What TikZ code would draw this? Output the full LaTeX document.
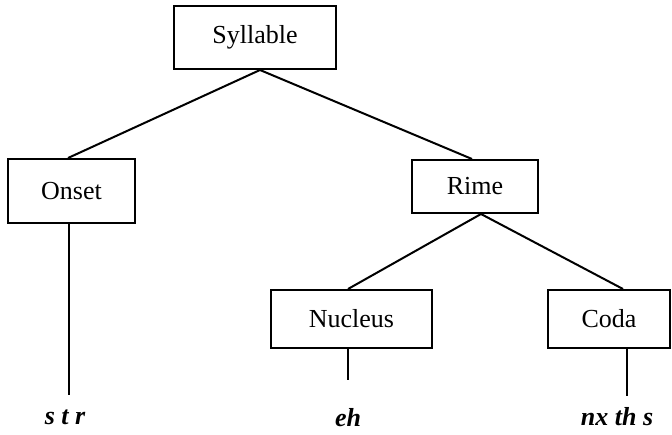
\documentclass[tikz,border=0pt]{standalone}
\usepackage{fontspec}
\setmainfont{Liberation Serif}

\begin{document}
\begin{tikzpicture}[x=0.5pt,y=-0.5pt,line width=1pt,
   unit/.style={draw,inner sep=0pt,font=\fontsize{13}{15}\selectfont},
   seg/.style={inner sep=0pt,font=\fontsize{13}{15}\selectfont\bfseries\itshape}]
   \useasboundingbox (0,0) rectangle (672,434);
    \node[unit,minimum width=81pt,minimum height=31.5pt] (syl) at (255,37.5) {Syllable};
    \node[unit,minimum width=63.5pt,minimum height=32pt] (onset) at (71.5,191) {Onset};
    \node[unit,minimum width=63pt,minimum height=26.5pt] (rime) at (475,186.5) {Rime};
    \node[unit,minimum width=80.5pt,minimum height=29pt] (nucleus) at (351.5,319) {Nucleus};
    \node[unit,minimum width=61pt,minimum height=29pt] (coda) at (609,319) {Coda};
    \coordinate (onsetend) at (69,395);
    \coordinate (nucleusend) at (348,380);
    \coordinate (codaend) at (627,396);
    \node[seg] (onsetseg) at (65,417) {s t r};
    \node[seg] (nucleusseg) at (348,418) {eh};
    \node[seg] (codaseg) at (617,417) {nx th s};
    \draw ([xshift=-1.75pt]onset.north) -- ([xshift=2.5pt]syl.south) -- ([xshift=-1.5pt]rime.north);
    \draw ([xshift=-1.75pt]nucleus.north) -- ([xshift=3pt]rime.south) -- ([xshift=7pt]coda.north);
    \draw ([xshift=-1.25pt]onset.south) -- (onsetend);
    \draw ([xshift=-1.75pt]nucleus.south) -- (nucleusend);
    \draw ([xshift=9pt]coda.south) -- (codaend);
  \end{tikzpicture}
\end{document}
